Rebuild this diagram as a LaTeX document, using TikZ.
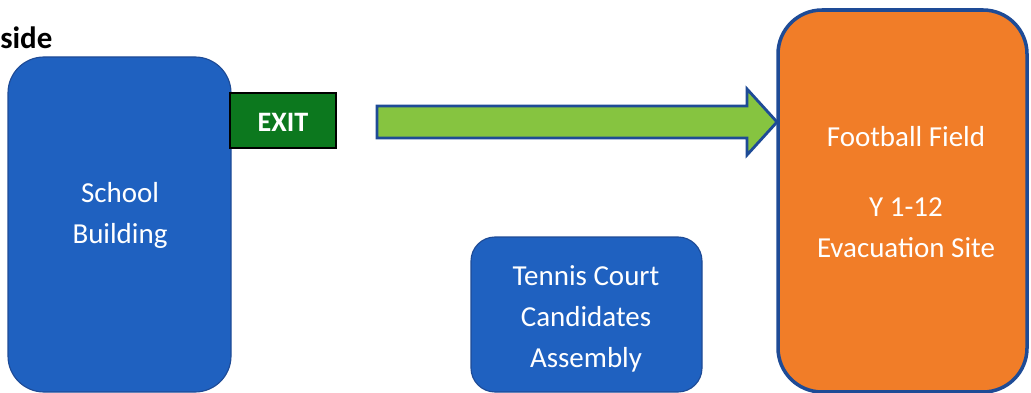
\documentclass[tikz,border=0pt]{standalone}
\usepackage{fontspec}
\setmainfont{Carlito}
\usepackage{xcolor}
\usetikzlibrary{calc}
\definecolor{schoolblue}{RGB}{31,97,192}
\definecolor{edgeblue}{RGB}{30,75,150}
\definecolor{fieldorange}{RGB}{241,125,40}
\definecolor{exitgreen}{RGB}{12,120,30}
\definecolor{arrowgreen}{RGB}{134,196,64}

\begin{document}
\begin{tikzpicture}[x=0.025cm,y=-0.025cm,
	bluebox/.style={fill=schoolblue, draw=edgeblue, line width=0.8pt},
	boxtext/.style={text=white, align=center, font=\fontsize{20.6}{29.2}\selectfont}]
	\newcommand\boxbot{392}
	\newcommand\arrowy{122}
	
	\useasboundingbox (0,0) rectangle (1031,393);
	
	\node[anchor=base west, inner sep=0pt, font=\bfseries\fontsize{22}{26}\selectfont] (side) at (0,49) {side};
	
	% school building and exit
	\draw[bluebox, rounded corners=0.9cm] (8,57) rectangle (231,\boxbot);
	\node[boxtext] (school) at (120,215) {School\\Building};
	\draw[fill=exitgreen, draw=black, line width=2pt] (230,93) rectangle (336,148);
	\node[boxtext, font=\bfseries\fontsize{20}{24}\selectfont] (exit) at (283,122) {EXIT};
	
	% block arrow
	\coordinate (tail) at (377,\arrowy);
	\coordinate (tip) at (777,\arrowy);
	\draw[fill=arrowgreen, draw=edgeblue, line width=2pt, line join=miter]
		($(tail)+(0,-16)$) -- ($(tip)+(-30,-16)$) -- ($(tip)+(-30,-33)$) -- (tip)
		-- ($(tip)+(-30,33)$) -- ($(tip)+(-30,16)$) -- ($(tail)+(0,16)$) -- cycle;
	
	% tennis court
	\draw[bluebox, rounded corners=0.6cm] (471,237) rectangle (702,\boxbot);
	\node[boxtext] (tennis) at (586,319) {Tennis Court\\Candidates\\Assembly};
	
	% football field
	\draw[fill=fieldorange, draw=edgeblue, line width=2.5pt, rounded corners=1.1cm] (778,10) rectangle (1027,\boxbot);
	\node[boxtext] (field) at (906,192) {Football Field\\[21pt]Y 1-12\\Evacuation Site};
\end{tikzpicture}
\end{document}
